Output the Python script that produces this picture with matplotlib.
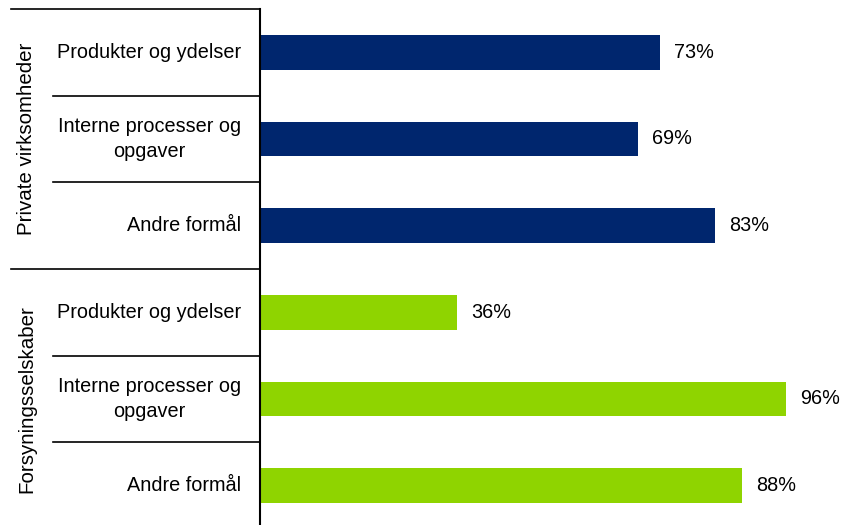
import matplotlib.pyplot as plt

plt.rcParams['font.family'] = ['Liberation Sans', 'DejaVu Sans']

groups = ['Private virksomheder', 'Forsyningsselskaber']
categories = ['Produkter og ydelser', 'Interne processer og\nopgaver', 'Andre formål']
private_values = [73, 69, 83]
utility_values = [36, 96, 88]
colors = ['#00266E', '#8FD400']

fig = plt.figure(figsize=(8.51, 5.25), dpi=100)
W, H = 851, 525
ax = fig.add_axes([260 / W, 1 - 529 / H, 548 / W, 520 / H])

values = private_values + utility_values
labels = categories + categories
bar_colors = [colors[0]] * 3 + [colors[1]] * 3
pos = list(range(len(values)))
fs = 14.3

ax.barh(pos, values, height=0.4, color=bar_colors)
for p, v in zip(pos, values):
    ax.text(v + 2.6, p, f'{v}%', va='center', ha='left', fontsize=fs)

ax.set_xlim(0, 100)
ax.set_ylim(5.5, -0.5)
ax.set_xticks([])
ax.set_yticks([])
for side in ['top', 'right', 'bottom']:
    ax.spines[side].set_visible(False)
ax.spines['left'].set_linewidth(1.5)

tr = ax.get_yaxis_transform()
x_short = (53 - 260) / 548
x_long = (11 - 260) / 548
for p, lab in zip(pos, labels):
    ax.text(-19 / 548, p, lab, transform=tr, ha='right', va='center',
            multialignment='center', fontsize=fs, linespacing=1.4)

for y in [0.5, 1.5, 3.5, 4.5]:
    ax.plot([x_short, 0], [y, y], transform=tr, color='black', lw=1.2, clip_on=False)
for y in [-0.5, 2.5]:
    ax.plot([x_long, 0], [y, y], transform=tr, color='black', lw=1.2, clip_on=False)

for i, g in enumerate(groups):
    ax.text((27 - 260) / 548, 1 + 3 * i, g, transform=tr, rotation=90,
            ha='center', va='center', fontsize=14.8)

fig.savefig('out.png', dpi=100)
